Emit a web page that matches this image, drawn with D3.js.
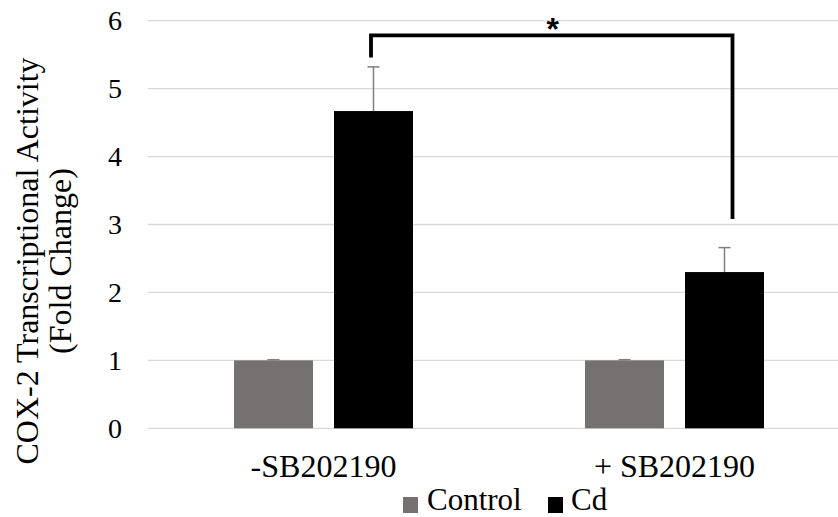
<!DOCTYPE html>
<html>
<head>
<meta charset="utf-8">
<script src="https://cdn.jsdelivr.net/npm/d3@7/dist/d3.min.js"></script>
<style>
  html, body { margin: 0; padding: 0; background: #ffffff; }
  svg { display: block; }
  svg text { font-family: "Liberation Serif", "Tinos", "Times New Roman", Times, "DejaVu Serif", serif !important; fill: #000; }
  svg text.sig { font-family: "Liberation Sans", Arial, "DejaVu Sans", sans-serif !important; }
</style>
</head>
<body>
<svg id="chart" width="838" height="517"></svg>
<script>
// ---- data ----
const categories = ["-SB202190", "+ SB202190"];
const seriesNames = ["Control", "Cd"];
const controlValues = [1.0, 1.0];
const controlErrors = [0.01, 0.01];
const cdValues = [4.67, 2.30];
const cdErrors = [0.65, 0.36];
const yTicks = [0, 1, 2, 3, 4, 5, 6];
const seriesColors = ["#767171", "#000000"];
const yTitleLines = ["COX-2 Transcriptional Activity", "(Fold Change)"];
// significance bracket (data units): top, left bottom, right bottom
const bracketTop = 5.785, bracketLeftBottom = 5.46, bracketRightBottom = 3.08;
const sigLabel = "*";

const series = [
  { name: seriesNames[0], values: controlValues, errors: controlErrors, color: seriesColors[0] },
  { name: seriesNames[1], values: cdValues, errors: cdErrors, color: seriesColors[1] }
];

const svg = d3.select("#chart");
const plotLeft = 148, plotRight = 850, plotTop = 20.7, plotBottom = 428.3;

const y = d3.scaleLinear().domain([0, 6]).range([plotBottom, plotTop]);
const x0 = d3.scaleBand().domain(categories).range([plotLeft, plotRight]).paddingInner(0).paddingOuter(0);
const bw = x0.bandwidth();
const x1 = d3.scaleBand().domain(seriesNames)
  .range([bw / 2 - 100, bw / 2 + 100]).paddingInner(0.21).paddingOuter(0.105);

// gridlines
svg.append("g").selectAll("line").data(yTicks).join("line")
  .attr("x1", plotLeft).attr("x2", 838)
  .attr("y1", d => y(d)).attr("y2", d => y(d))
  .attr("stroke", "#d9d9d9").attr("stroke-width", 1.3);

// y axis
const yAxis = svg.append("g").attr("transform", `translate(${plotLeft - 26},0)`)
  .call(d3.axisLeft(y).tickValues(yTicks).tickFormat(d3.format("d")).tickSize(0).tickPadding(0));
yAxis.attr("font-family", null);
yAxis.select(".domain").remove();
yAxis.selectAll("text").style("font-size", "28px").attr("fill", "#000");

// x axis labels
const xAxis = svg.append("g").attr("transform", `translate(0,${plotBottom})`)
  .call(d3.axisBottom(x0).tickSize(0).tickPadding(26));
xAxis.attr("font-family", null);
xAxis.select(".domain").remove();
xAxis.selectAll("text").style("font-size", "32px").attr("fill", "#000");

// bars
const groups = svg.append("g").selectAll("g").data(categories).join("g")
  .attr("transform", c => `translate(${x0(c)},0)`);

groups.each(function (c, ci) {
  const g = d3.select(this);
  series.forEach(s => {
    const v = s.values[ci], e = s.errors[ci];
    const bx = x1(s.name);
    g.append("rect")
      .attr("x", bx).attr("width", x1.bandwidth())
      .attr("y", y(v)).attr("height", y(0) - y(v))
      .attr("fill", s.color);
    const cx = bx + x1.bandwidth() / 2;
    g.append("line").attr("x1", cx).attr("x2", cx)
      .attr("y1", y(v)).attr("y2", y(v + e))
      .attr("stroke", "#7f7f7f").attr("stroke-width", 1.5);
    g.append("line").attr("x1", cx - 6).attr("x2", cx + 6)
      .attr("y1", y(v + e)).attr("y2", y(v + e))
      .attr("stroke", "#7f7f7f").attr("stroke-width", 1.5);
  });
});

// significance bracket
const cdCenter = c => x0(c) + x1("Cd") + x1.bandwidth() / 2;
const bl = cdCenter(categories[0]) - 2.5;
const br = cdCenter(categories[1]) + 8;
svg.append("path")
  .attr("d", `M${bl},${y(bracketLeftBottom)} L${bl},${y(bracketTop)} L${br},${y(bracketTop)} L${br},${y(bracketRightBottom)}`)
  .attr("fill", "none").attr("stroke", "#000").attr("stroke-width", 3.8)
  .attr("stroke-linejoin", "miter");
svg.append("text").attr("class", "sig")
  .attr("x", (bl + br) / 2 + 1).attr("y", 39.6)
  .attr("text-anchor", "middle")
  .style("font-weight", "bold").style("font-size", "32px")
  .text(sigLabel);

// y title
const yTitleCenter = 261;
const yTitle = svg.append("g");
yTitleLines.forEach((t, i) => {
  yTitle.append("text")
    .attr("transform", `translate(${[38, 71][i]},${yTitleCenter}) rotate(-90)`)
    .attr("text-anchor", "middle")
    .style("font-size", "32px")
    .text(t);
});

// legend
const legendItems = [
  { name: seriesNames[0], color: seriesColors[0], sx: 403, tx: 427 },
  { name: seriesNames[1], color: seriesColors[1], sx: 548, tx: 571 }
];
const leg = svg.append("g");
legendItems.forEach(d => {
  leg.append("rect").attr("x", d.sx).attr("y", 497).attr("width", 15).attr("height", 16).attr("fill", d.color);
  leg.append("text").attr("x", d.tx).attr("y", 510).style("font-size", "31px").text(d.name);
});
</script>
</body>
</html>
